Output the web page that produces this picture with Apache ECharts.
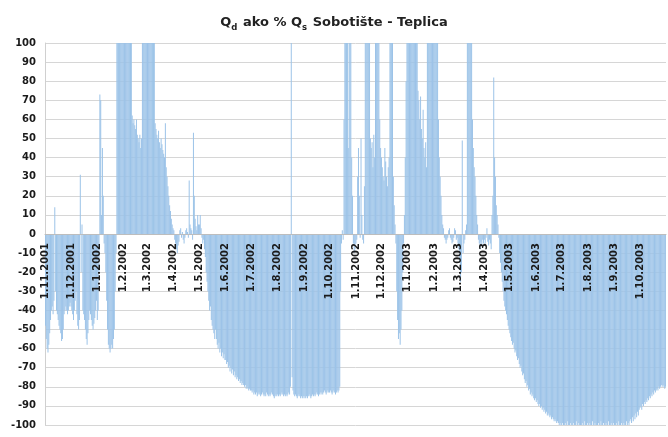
<!DOCTYPE html>
<html>
<head>
<meta charset="utf-8">
<script src="https://cdn.jsdelivr.net/npm/echarts@6/dist/echarts.min.js"></script>
<style>html,body{margin:0;padding:0;background:#fff;}#c{width:668px;height:437px;}</style>
</head>
<body>
<div id="c"></div>
<script>
// Daily values (% ), hydrological years Nov 2001 - Oct 2003
const nov01 = [-48,-55,-60,-62,-58,-52,-45,-40,-38,-42, -35,14,-30,-40,-42,-45,-48,-50,-52,-56, -55,-50,-42,-40,-38,-40,-42,-40,-38,-36];
const dec01 = [-38,-40,-42,-45,-40,-35,-30,-42,-48,-50, -45,31,-20,5,-40,-42,-45,-50,-55,-58, -52,-45,-40,-42,-45,-48,-50,-47,-44,-40, -35];
const jan02 = [-45,-40,-20,73,70,10,45,20,-5,-10, -20,-35,-50,-58,-60,-62,-60,-58,-60,-55, -50,-30,-10,100,100,100,100,100,100,100, 100];
const feb02 = [100,100,100,100,100,100,100,100,100,100, 62,58,60,57,55,60,52,50,48,52, 45,50,100,100,100,100,100,100];
const mar02 = [100,100,100,100,100,100,100,100,100,58, 55,52,50,54,48,45,50,47,44,42, 40,58,35,30,25,20,15,12,8,5, 3];
const apr02 = [2,-3,-5,-8,-10,-6,-4,2,3,-2, 1,-3,-5,-2,2,3,1,-2,28,5, 3,2,-3,53,20,8,4,2,10,5];
const may02 = [5,10,3,-2,-5,-3,-8,-12,-20,-25, -30,-35,-40,-38,-45,-48,-50,-52,-55,-50, -55,-58,-60,-57,-62,-60,-64,-62,-65,-63, -66];
const jun02 = [-66,-68,-67,-70,-69,-72,-70,-73,-71,-74, -72,-75,-74,-76,-75,-77,-76,-78,-77,-79, -78,-79,-80,-79,-81,-80,-81,-82,-81,-82];
const jul02 = [-82,-83,-82,-84,-83,-84,-83,-85,-84,-83, -84,-85,-84,-83,-84,-85,-84,-85,-83,-84, -85,-84,-85,-84,-83,-84,-85,-86,-85,-84, -85];
const aug02 = [-84,-85,-84,-85,-84,-83,-84,-85,-84,-85, -84,-85,-84,-83,-84,-80,100,-75,-82,-84, -85,-84,-85,-86,-85,-84,-85,-86,-85,-86, -85];
const sep02 = [-86,-85,-86,-85,-86,-85,-84,-85,-86,-85, -84,-85,-84,-85,-84,-83,-84,-85,-84,-83, -84,-83,-84,-83,-82,-83,-84,-83,-82,-83];
const oct02 = [-83,-82,-83,-84,-83,-82,-83,-84,-83,-82, -83,-82,-80,-30,-5,2,-3,60,100,100, 100,100,45,100,100,100,40,20,-5,-10, -8];
const nov02 = [-5,-3,30,45,20,-2,50,10,-3,-5, 25,100,100,100,100,100,100,50,45,48, 35,52,40,100,100,100,100,100,60,45];
const dec02 = [40,35,30,28,45,38,30,25,35,40, 100,100,100,100,30,15,5,-5,-30,-45, -55,-52,-58,-50,-40,-20,-5,10,40,80, 100];
const jan03 = [100,100,100,100,100,100,100,100,100,100, 100,100,75,70,60,72,55,50,65,45, 40,48,35,100,100,100,100,100,100,100, 100];
const feb03 = [100,100,100,100,100,60,40,30,20,10, 5,3,-2,-3,-5,-3,-2,2,3,-2, -3,-5,-4,-2,3,2,-3,-2];
const mar03 = [-5,-8,-15,-25,-20,49,-10,-5,-3,2, 5,100,100,100,100,100,100,60,45,35, 30,20,10,5,-3,-5,-8,-4,-6,-3, -5];
const apr03 = [-3,-5,-2,3,-4,-6,-3,-5,-8,10, 20,82,40,30,15,10,5,-2,-10,-15, -20,-25,-30,-35,-38,-40,-42,-45,-48,-50];
const may03 = [-52,-54,-56,-58,-57,-60,-62,-61,-64,-66, -65,-68,-70,-69,-72,-74,-73,-76,-78,-77, -80,-79,-82,-81,-84,-83,-85,-84,-86,-87, -86];
const jun03 = [-88,-87,-89,-90,-89,-91,-90,-92,-91,-93, -92,-94,-93,-95,-94,-95,-96,-95,-97,-96, -97,-98,-97,-98,-99,-98,-99,-100,-99,-100];
const jul03 = [-100,-99,-100,-100,-99,-100,-100,-98,-100,-100, -99,-100,-100,-100,-99,-100,-100,-98,-100,-100, -99,-100,-100,-100,-99,-100,-100,-98,-100,-100, -99];
const aug03 = [-100,-100,-99,-100,-100,-98,-100,-100,-99,-100, -100,-100,-99,-100,-100,-98,-100,-100,-99,-100, -100,-99,-100,-100,-98,-100,-100,-99,-100,-100, -99];
const sep03 = [-100,-100,-99,-100,-100,-98,-100,-100,-99,-100, -100,-99,-100,-100,-98,-100,-99,-100,-98,-97, -99,-96,-98,-95,-97,-94,-96,-93,-95,-92];
const oct03 = [-91,-90,-92,-89,-90,-88,-89,-87,-88,-86, -87,-85,-86,-84,-85,-83,-84,-82,-83,-82, -81,-82,-80,-81,-80,-79,-80,-79,-80,-81, -80];

const months = [
  [11,2001,nov01],[12,2001,dec01],[1,2002,jan02],[2,2002,feb02],[3,2002,mar02],[4,2002,apr02],
  [5,2002,may02],[6,2002,jun02],[7,2002,jul02],[8,2002,aug02],[9,2002,sep02],[10,2002,oct02],
  [11,2002,nov02],[12,2002,dec02],[1,2003,jan03],[2,2003,feb03],[3,2003,mar03],[4,2003,apr03],
  [5,2003,may03],[6,2003,jun03],[7,2003,jul03],[8,2003,aug03],[9,2003,sep03],[10,2003,oct03]
];
const yTicks = {min: -100, max: 100, interval: 10};
const titleParts = ['Q', 'd', ' ako % Q', 's', ' Sobotište - Teplica'];

const categories = [];
const values = [];
months.forEach(([m, y, arr]) => {
  arr.forEach((v, i) => { categories.push((i + 1) + '.' + m + '.' + y); values.push(v); });
});

const W = 668, H = 437, gTop = 43, gBottom = 12;
const plotH = H - gTop - gBottom;
const zeroOffset = plotH * (0 - yTicks.min) / (yTicks.max - yTicks.min);

const chart = echarts.init(document.getElementById('c'), null, {renderer: 'canvas'});
const font = 'DejaVu Sans';
chart.setOption({
  animation: false,
  backgroundColor: '#ffffff',
  title: {
    left: 'center', top: 8,
    text: '{b|' + titleParts[0] + '}{s|' + titleParts[1] + '}{b|' + titleParts[2] + '}{s|' + titleParts[3] + '}{b|' + titleParts[4] + '}',
    textStyle: {
      rich: {
        b: {fontFamily: font, fontWeight: 'bold', fontSize: 13, color: '#222', lineHeight: 16, verticalAlign: 'bottom'},
        s: {fontFamily: font, fontWeight: 'bold', fontSize: 8.5, color: '#222', lineHeight: 16, verticalAlign: 'bottom', padding: [0, 1, -3, 0]}
      }
    }
  },
  grid: {left: 45, right: 2, top: gTop, bottom: gBottom, containLabel: false},
  xAxis: {
    type: 'category',
    data: categories,
    boundaryGap: true,
    position: 'bottom',
    offset: -zeroOffset,
    z: 10,
    axisLine: {show: true, onZero: false, lineStyle: {color: '#bdbdbd', width: 1}},
    axisTick: {show: false},
    splitLine: {show: false},
    axisLabel: {
      rotate: 90,
      margin: 9,
      interval: (idx, val) => val.startsWith('1.'),
      fontFamily: font, fontWeight: 'bold', fontSize: 10, color: '#1a1a1a'
    }
  },
  yAxis: {
    type: 'value',
    min: yTicks.min, max: yTicks.max, interval: yTicks.interval,
    axisLine: {show: true, lineStyle: {color: '#d0d0d0'}},
    axisTick: {show: false},
    splitLine: {show: true, lineStyle: {color: '#d6d6d6', width: 1}},
    axisLabel: {margin: 9, fontFamily: font, fontWeight: 'bold', fontSize: 10, color: '#1a1a1a'}
  },
  series: [{
    type: 'bar',
    z: 2,
    data: values,
    barCategoryGap: '0%',
    barGap: '0%',
    itemStyle: {color: '#9cc3e8'},
    clip: true,
    large: false
  }]
});
</script>
</body>
</html>
